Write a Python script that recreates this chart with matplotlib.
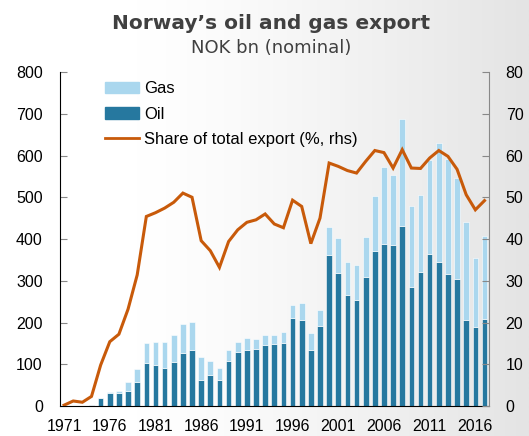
import numpy as np
import matplotlib
matplotlib.use("Agg")
import matplotlib.pyplot as plt
from matplotlib.patches import Patch
from matplotlib.lines import Line2D
from matplotlib.colors import LinearSegmentedColormap

# data, NOK bn (nominal) and share of total export (%)
years = list(range(1971, 2018))
oil = [0, 0, 0, 3, 18, 32, 31, 36, 58, 103,
       99, 91, 106, 128, 133, 62, 75, 63, 107, 130,
       135, 136, 146, 148, 152, 210, 205, 133, 192, 361,
       318, 265, 255, 308, 371, 387, 385, 430, 285, 322,
       363, 344, 317, 304, 207, 190, 208]
gas = [0, 0, 0, 0, 0, 1, 4, 21, 30, 47,
       55, 63, 64, 68, 69, 55, 33, 28, 27, 24,
       28, 24, 23, 22, 25, 32, 41, 41, 37, 68,
       84, 80, 83, 98, 133, 185, 168, 258, 195, 184,
       227, 285, 275, 241, 233, 165, 200]
share = [0.2, 1.2, 0.9, 2.3, 9.8, 15.4, 17.2, 23.2, 31.4, 45.4,
         46.3, 47.4, 48.8, 51.0, 50.0, 39.6, 37.2, 33.2, 39.4, 42.2,
         44.0, 44.6, 46.0, 43.6, 42.7, 49.3, 47.8, 38.9, 45.0, 58.2,
         57.4, 56.4, 55.8, 58.6, 61.2, 60.7, 57.0, 61.4, 57.0, 56.9,
         59.4, 61.2, 59.8, 56.7, 50.6, 47.0, 49.2]
xticks = list(range(1971, 2017, 5))

c_oil = "#26789f"
c_gas = "#aad7ee"
c_line = "#c85a0a"

plt.rcParams["font.family"] = ["Liberation Sans", "DejaVu Sans"]

fig = plt.figure(figsize=(5.29, 4.36), dpi=100)

# light grey gradient background
bg = fig.add_axes([0, 0, 1, 1], zorder=-10)
gx = np.linspace(0, 1, 300)
grad = np.clip((gx - 0.25) / 0.75, 0, 1) ** 1.3
bg.imshow(grad[np.newaxis, :], aspect="auto", extent=[0, 1, 0, 1],
          cmap=LinearSegmentedColormap.from_list("bg", ["#ffffff", "#e4e4e4"]))
bg.axis("off")

ax = fig.add_axes([0.1125, 0.0688, 0.812, 0.766])
ax.set_facecolor("none")
ax.bar(years, oil, width=0.62, color=c_oil, edgecolor="white", linewidth=0.4)
ax.bar(years, gas, bottom=oil, width=0.62, color=c_gas, edgecolor="white", linewidth=0.4)
ax.set_xlim(1970.5, 2017.5)
ax.set_ylim(0, 800)
ax.set_yticks(range(0, 801, 100))
ax.set_xticks(xticks)
ax.tick_params(axis="y", direction="in", length=5, color="#888888", labelsize=11.5, pad=12)
ax.tick_params(axis="x", length=0, labelsize=11.5, pad=9)
ax.spines["top"].set_visible(False)
ax.spines["right"].set_visible(False)

ax2 = ax.twinx()
ax2.plot(years, share, color=c_line, linewidth=2.2, solid_joinstyle="miter")
ax2.set_ylim(0, 80)
ax2.set_yticks(range(0, 81, 10))
ax2.tick_params(axis="y", direction="in", length=5, color="#888888", labelsize=11.5, pad=12)
ax2.spines["top"].set_visible(False)
ax2.spines["left"].set_visible(False)
ax2.spines["bottom"].set_visible(False)
ax2.spines["right"].set_color("#888888")

handles = [Patch(color=c_gas), Patch(color=c_oil), Line2D([0], [0], color=c_line, lw=2)]
ax2.legend(handles, ["Gas", "Oil", "Share of total export (%, rhs)"],
           loc="upper left", bbox_to_anchor=(0.105, 0.972), frameon=False,
           fontsize=12, handlelength=2.05, handletextpad=0.3, labelspacing=0.62,
           borderpad=0, borderaxespad=0)

fig.text(0.512, 0.947, "Norway\u2019s oil and gas export", ha="center", va="center",
         fontsize=14.5, fontweight="bold", color="#404040", family="DejaVu Sans")
fig.text(0.512, 0.89, "NOK bn (nominal)", ha="center", va="center",
         fontsize=13, color="#404040", family="DejaVu Sans")

fig.savefig("out.png", dpi=100)
